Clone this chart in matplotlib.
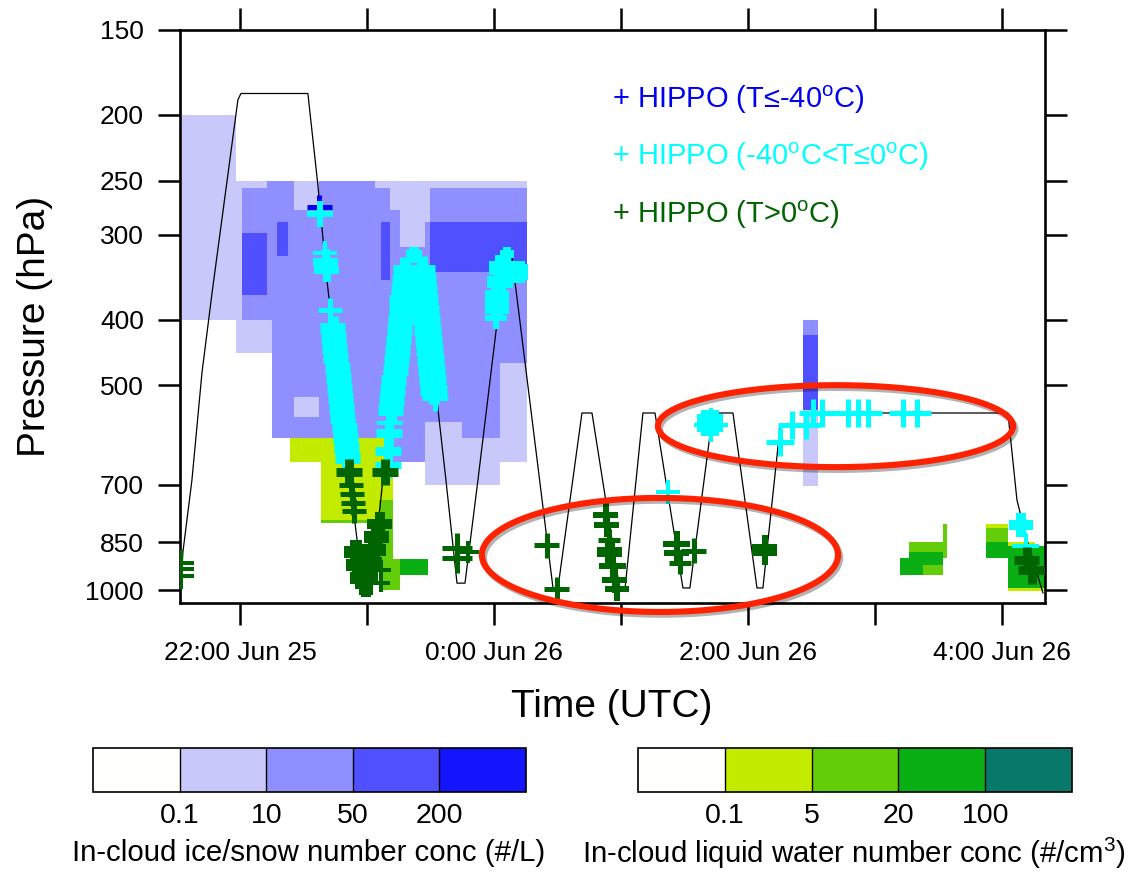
import numpy as np
import matplotlib
matplotlib.use('Agg')
import matplotlib.pyplot as plt
from matplotlib.colors import ListedColormap, BoundaryNorm
from matplotlib.cm import ScalarMappable
import matplotlib.patheffects as pe

plt.rcParams['font.family'] = ['Liberation Sans', 'DejaVu Sans']
plt.rcParams['mathtext.fontset'] = 'custom'
plt.rcParams['mathtext.rm'] = 'Liberation Sans'
plt.rcParams['mathtext.it'] = 'Liberation Sans:italic'

# ---------------- data ----------------
# time in hours relative to 0:00 UTC Jun 26
hour_ticks = [-2, -1, 0, 1, 2, 3, 4]
hour_labels = ['22:00 Jun 25', '', '0:00 Jun 26', '', '2:00 Jun 26', '', '4:00 Jun 26']
p_ticks = [150, 200, 250, 300, 400, 500, 700, 850, 1000]
t_range = (-2.472, 4.339)
p_range = (1045, 150)

ice_levels = ['0.1', '10', '50', '200']
liq_levels = ['0.1', '5', '20', '100']

# simulated in-cloud ice/snow number conc (class index 0..4)
ice_t_edges = [-2.457, -2.031, -1.984, -1.787, -1.748, -1.709, -1.622, -1.575, -1.378,
               -0.937, -0.890, -0.819, -0.740, -0.543, -0.504, -0.252, 0.047, 0.260]
ice_p_edges = [200, 250, 256, 276, 287, 298, 313, 323, 340, 350, 368, 400, 448, 463,
               520, 557, 566, 598, 648, 700]
ice_rows = [
    "10000000000000000",
    "11122221211111111",
    "11222221222111222",
    "11222222222211222",
    "11222322223212333",
    "11322322223212333",
    "11322322223222333",
    "11322222223222333",
    "11322222223222222",
    "11322222222222222",
    "11222222222222222",
    "01112222222222222",
    "00002222222222222",
    "00002222222222221",
    "00002221222222221",
    "00002222222222221",
    "00002222222221121",
    "00000000000221111",
    "00000000000001110",
]
ice2_t_edges = [2.433, 2.551]
ice2_p_edges = [401, 422, 544, 704]
ice2_rows = ["2", "3", "1"]

# simulated in-cloud liquid water number conc (class index 0..4)
liq_t_edges = [-1.606, -1.362, -0.976, -0.906, -0.795, -0.740, -0.520]
liq_p_edges = [598, 648, 737, 789, 797, 900, 950, 1000]
liq_rows = ["111100", "011100", "011200", "021200", "000200", "000223", "000220"]

liq2_t_edges = [3.197, 3.268, 3.378, 3.535, 3.567, 3.874, 4.047, 4.260, 4.339]
liq2_p_edges = [800, 811, 850, 862, 879, 897, 919, 950, 993, 1003]
liq2_rows = ["00020100", "00020200", "02220310", "02220333", "03320333",
             "33300033", "33200033", "00000033", "00000011"]

# flight track
track_t = [-2.465, -2.449, -2.378, -2.299, -2.220, -2.016, -1.992, -1.465, -1.386, -1.315,
           -1.189, -1.094, -1.031, -1.008, -0.898, -0.835, -0.740, -0.646, -0.598, -0.449,
           -0.378, -0.291, -0.228, -0.126, 0.024, 0.087, 0.134, 0.181, 0.465, 0.504,
           0.693, 0.772, 0.992, 1.031, 1.173, 1.268, 1.488, 1.543, 1.724, 1.882,
           2.071, 2.118, 2.228, 2.252, 2.449, 2.488, 4.047, 4.118, 4.197, 4.323]
track_p = [1000, 879, 689, 479, 366, 190, 186, 186, 254, 350,
           562, 797, 993, 993, 758, 582, 401, 316, 316, 525,
           689, 977, 977, 689, 405, 316, 316, 371, 993, 993,
           549, 549, 1000, 1000, 549, 549, 993, 993, 549, 549,
           993, 993, 637, 576, 572, 549, 549, 737, 844, 1010]

# HIPPO observations: T <= -40C
hb_t = [-1.378]
hb_p = [273]
hb_size = [25]
hb_wt = [5]

# HIPPO observations: -40C < T <= 0C
hc_t = [-1.370, -1.331, -1.323, -1.315, -1.291,
        -1.271, -1.262, -1.253, -1.244, -1.235, -1.226, -1.217, -1.208, -1.198, -1.190,
        -1.180, -1.172, -1.163, -1.154,
        -0.811, -0.803, -0.795, -0.787, -0.779, -0.771, -0.763, -0.755, -0.747, -0.739,
        -0.731, -0.724, -0.715, -0.707, -0.699, -0.630,
        -0.569, -0.561, -0.553, -0.545, -0.537, -0.529, -0.521, -0.513, -0.506, -0.498,
        -0.490, -0.482, -0.474, -0.465,
        -0.819, -0.827, -0.835, -0.835,
        0.102, 0.063, 0.181, 0.047, 0.024, 0.024, 0.016,
        1.370, 1.701, 1.709,
        2.252, 2.346, 2.457, 2.512, 2.583, 2.787, 2.866, 2.945, 3.220, 3.331,
        4.150, 4.189]
hc_p = [280, 319, 329, 338, 387,
        412, 426, 440, 456, 471, 488, 504, 522, 540, 558, 578, 598, 618, 640,
        544, 525, 508, 491, 475, 459, 444, 429, 414, 401, 387, 374, 362, 350, 338, 322,
        338, 350, 362, 374, 387, 401, 414, 429, 444, 459, 475, 491, 508, 522,
        568, 588, 625, 655,
        320, 336, 341, 352, 369, 385, 398,
        718, 568, 572,
        606, 572, 572, 549, 549, 549, 549, 549, 549, 549,
        802, 862]
hc_size = [26, 24, 25, 25, 24,
           25, 25, 25, 25, 25, 25, 25, 25, 25, 25, 25, 25, 25, 25,
           25, 25, 25, 25, 25, 25, 25, 25, 25, 25, 25, 25, 25, 25, 25, 16,
           27, 27, 27, 27, 27, 27, 27, 27, 27, 27, 27, 27, 27, 26,
           26, 26, 26, 26,
           14, 26, 22, 26, 24, 24, 22,
           24, 26, 34,
           28, 28, 28, 28, 28, 28, 28, 28, 28, 28,
           24, 27]
hc_wt = [6, 4, 8, 8, 5,
         11, 11, 11, 11, 11, 11, 11, 11, 11, 11, 11, 11, 11, 11,
         11, 11, 11, 11, 11, 11, 11, 11, 11, 11, 11, 11, 11, 11, 11, 10,
         11, 11, 11, 11, 11, 11, 11, 11, 11, 11, 11, 11, 11, 5,
         4, 9, 9, 7,
         8, 14, 16, 12, 12, 12, 6,
         4, 18, 4,
         5, 5, 5, 5, 5, 5, 5, 5, 5, 5,
         10, 4]

# HIPPO observations: T > 0C
hg_t = [-2.465, -2.465, -2.465,
        -1.142, -1.126, -1.118, -1.110, -1.102,
        -0.858,
        -1.087, -1.071, -1.047, -1.008, -0.898, -0.921, -0.945, -0.969, -0.992, -0.890, -0.890,
        -0.291, -0.291, -0.205,
        0.417, 0.496,
        0.882, 0.890, 0.906, 0.913, 0.937, 0.953, 0.969,
        1.441, 1.441, 1.575, 1.465,
        2.134, 2.134,
        4.197, 4.236]
hg_p = [913, 931, 954,
        671, 701, 723, 745, 765,
        671,
        879, 919, 960, 1000, 800, 836, 873, 913, 954, 935, 977,
        868, 898, 879,
        859, 997,
        776, 802, 844, 879, 922, 967, 997,
        856, 882, 876, 913,
        865, 882,
        903, 935]
hg_size = [26, 26, 26, 26, 24, 24, 24, 24, 26,
           24, 24, 22, 14, 25, 25, 24, 22, 20, 20, 18,
           30, 30, 22, 25, 25,
           25, 25, 22, 25, 27, 25, 24,
           27, 25, 25, 22, 25, 25, 25, 27]
hg_wt = [4, 4, 4, 9, 5, 5, 5, 5, 9,
         12, 12, 12, 10, 10, 12, 12, 12, 10, 4, 4,
         5, 5, 4, 5, 5,
         6, 6, 5, 10, 6, 6, 6,
         6, 6, 5, 5, 6, 6, 9, 9]

# highlighted regions (centre time, centre pressure, half-width h, half-height decades)
ell_t = [1.307, 2.689]
ell_p = [888, 574]
ell_a = [1.402, 1.398]
ell_b = [0.0839, 0.0603]

legend_texts = ['+ HIPPO (T\u2264-40$^{\\mathregular{o}}$C)',
                '+ HIPPO (-40$^{\\mathregular{o}}$C<T\u22640$^{\\mathregular{o}}$C)',
                '+ HIPPO (T>0$^{\\mathregular{o}}$C)']

# ---------------- style ----------------
ice_colors = ['#FFFFFC', '#C8C8FA', '#8F8FFF', '#5050FF', '#1414FF']
liq_colors = ['#FFFFFC', '#C3EB00', '#64CD0A', '#0AAF14', '#08786A']
c_blue, c_cyan, c_green = '#0000EE', '#00FFFF', '#006400'
PX = 0.72  # points per pixel at dpi 100

fig = plt.figure(figsize=(11.3, 8.72), dpi=100)
ax = fig.add_axes([180 / 1130, 1 - 603 / 872, 865 / 1130, 573 / 872])
ax.set_yscale('log')


def draw_field(t_edges, p_edges, rows, colors):
    grid = np.array([[int(c) for c in r] for r in rows])
    m = np.ma.masked_equal(grid, 0)
    ax.pcolormesh(t_edges, p_edges, m, cmap=ListedColormap(colors[1:]),
                  vmin=0.5, vmax=4.5, shading='flat', antialiased=False,
                  linewidth=0, zorder=1)


draw_field(ice_t_edges, ice_p_edges, ice_rows, ice_colors)
draw_field(ice2_t_edges, ice2_p_edges, ice2_rows, ice_colors)
draw_field(liq_t_edges, liq_p_edges, liq_rows, liq_colors)
draw_field(liq2_t_edges, liq2_p_edges, liq2_rows, liq_colors)

ax.plot(track_t, track_p, color='black', lw=0.9, zorder=2)


def hippo(t, p, size, wt, color, z):
    ax.scatter(t, p, s=(np.array(size) * PX) ** 2, marker='+',
               linewidths=np.array(wt) * PX, c=color, zorder=z)


hippo(hb_t, hb_p, hb_size, hb_wt, c_blue, 3)
hippo(hc_t, hc_p, hc_size, hc_wt, c_cyan, 4)
hippo(hg_t, hg_p, hg_size, hg_wt, c_green, 5)

theta = np.linspace(0, 2 * np.pi, 400)
for tc, pc, a, b in zip(ell_t, ell_p, ell_a, ell_b):
    ax.plot(tc + a * np.cos(theta), pc * 10 ** (b * np.sin(theta)),
            color='#FF2200', lw=4.4, zorder=10, clip_on=False,
            path_effects=[pe.SimpleLineShadow(offset=(1.5, -2), shadow_color='black', alpha=0.3),
                          pe.Normal()])

ax.set_xlim(*t_range)
ax.set_ylim(*p_range)
ax.set_xticks(hour_ticks)
ax.set_xticklabels(hour_labels)
ax.set_yticks(p_ticks)
ax.set_yticklabels([str(v) for v in p_ticks])
ax.yaxis.set_minor_locator(matplotlib.ticker.NullLocator())
ax.tick_params(axis='both', which='major', direction='out', length=16, width=1.8,
               labelsize=19, top=True, right=True)
ax.tick_params(axis='x', pad=11)
ax.tick_params(axis='y', pad=10)
for s in ax.spines.values():
    s.set_linewidth(1.9)

leg_colors = [c_blue, c_cyan, c_green]
leg_y = [0.878, 0.778, 0.677]
for txt, col, yy in zip(legend_texts, leg_colors, leg_y):
    ax.text(0.4994, yy, txt, color=col, fontsize=21, transform=ax.transAxes,
            ha='left', va='center', zorder=11)

fig.text(35 / 1130, 1 - 326 / 872, 'Pressure (hPa)', rotation=90, ha='center',
         va='center', fontsize=28)
fig.text(612 / 1130, 1 - 707 / 872, 'Time (UTC)', ha='center', va='center', fontsize=28)


def draw_cbar(rect, colors, labels, title, title_x):
    cax = fig.add_axes(rect)
    norm = BoundaryNorm(np.arange(6), 5)
    cb = fig.colorbar(ScalarMappable(norm=norm, cmap=ListedColormap(colors)), cax=cax,
                      orientation='horizontal', ticks=[1, 2, 3, 4], drawedges=True)
    cb.set_ticklabels(labels)
    cax.minorticks_off()
    cax.tick_params(which='both', length=0, labelsize=20.5, pad=8)
    cb.outline.set_linewidth(1.2)
    cb.dividers.set_linewidth(1.0)
    fig.text(title_x, 1 - 853 / 872, title, ha='center', va='center', fontsize=21.2)


draw_cbar([93 / 1130, 1 - 792 / 872, 433 / 1130, 44 / 872], ice_colors, ice_levels,
          'In-cloud ice/snow number conc (#/L)', 309 / 1130)
draw_cbar([638 / 1130, 1 - 792 / 872, 434 / 1130, 44 / 872], liq_colors, liq_levels,
          'In-cloud liquid water number conc (#/cm$^{\\mathregular{3}}$)', 854 / 1130)

fig.savefig('out.png', dpi=100)
